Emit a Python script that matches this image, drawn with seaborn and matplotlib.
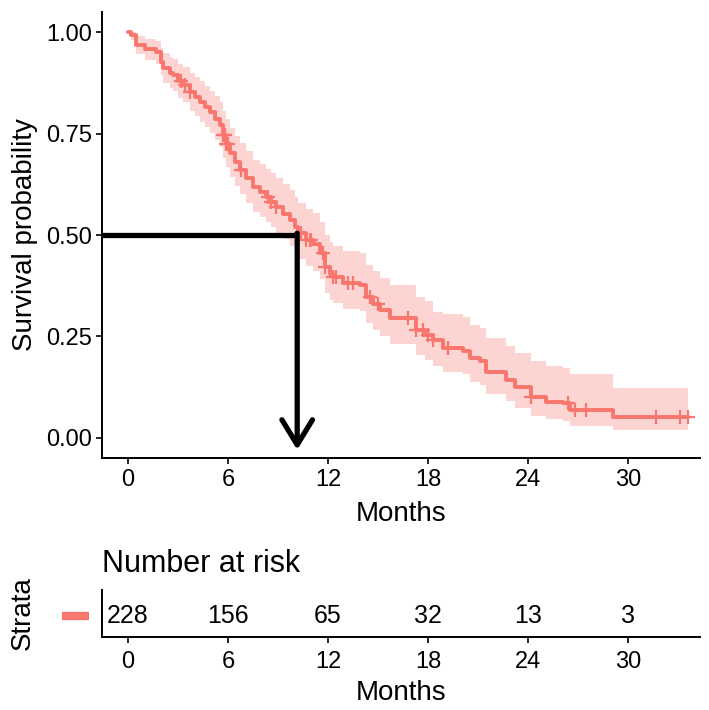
import numpy as np
import pandas as pd
import matplotlib
matplotlib.use('Agg')
import matplotlib.pyplot as plt
import seaborn as sns

# Kaplan-Meier steps (months, survival, 95% CI)
times = [0, 0.2, 0.45, 1.0, 1.7, 2.0, 2.1, 2.5, 2.7, 3.0, 3.3, 3.7, 4.0, 4.3, 4.6, 4.9,
         5.2, 5.5, 5.7, 5.9, 6.1, 6.4, 6.7, 7.1, 7.5, 7.9, 8.3, 8.6, 8.9, 9.3, 9.7, 10.0,
         10.2, 10.7, 11.1, 11.5, 11.8, 12.1, 12.3, 12.9, 13.9, 14.3, 14.7, 15.1, 15.7,
         17.3, 17.8, 18.3, 18.9, 20.1, 20.5, 21.1, 21.5, 22.7, 23.2, 24.2, 25.1, 26.1,
         26.5, 29.1, 33.6]
surv = [1.000, 0.993, 0.968, 0.958, 0.951, 0.927, 0.911, 0.900, 0.894, 0.880, 0.870,
        0.852, 0.840, 0.828, 0.815, 0.803, 0.786, 0.771, 0.746, 0.725, 0.702, 0.680,
        0.660, 0.640, 0.618, 0.606, 0.594, 0.582, 0.569, 0.553, 0.537, 0.520, 0.505,
        0.488, 0.478, 0.456, 0.422, 0.405, 0.397, 0.382, 0.377, 0.348, 0.330, 0.315,
        0.296, 0.266, 0.254, 0.241, 0.222, 0.215, 0.196, 0.188, 0.163, 0.143, 0.125,
        0.100, 0.089, 0.085, 0.069, 0.051, 0.051]
lower = [1.000, 0.982, 0.946, 0.932, 0.923, 0.894, 0.875, 0.862, 0.855, 0.839, 0.827,
         0.807, 0.793, 0.780, 0.766, 0.752, 0.734, 0.717, 0.691, 0.668, 0.644, 0.621,
         0.600, 0.579, 0.556, 0.544, 0.531, 0.519, 0.505, 0.489, 0.472, 0.455, 0.440,
         0.423, 0.412, 0.391, 0.357, 0.340, 0.332, 0.317, 0.312, 0.283, 0.266, 0.251,
         0.232, 0.204, 0.192, 0.178, 0.162, 0.156, 0.138, 0.131, 0.108, 0.090, 0.074,
         0.053, 0.045, 0.042, 0.030, 0.020, 0.020]
upper = [1.000, 1.000, 0.991, 0.984, 0.979, 0.961, 0.948, 0.939, 0.934, 0.922, 0.914,
         0.899, 0.889, 0.879, 0.867, 0.856, 0.842, 0.828, 0.805, 0.786, 0.765, 0.745,
         0.726, 0.707, 0.686, 0.675, 0.664, 0.653, 0.641, 0.625, 0.610, 0.594, 0.579,
         0.563, 0.554, 0.532, 0.499, 0.482, 0.474, 0.460, 0.455, 0.427, 0.410, 0.395,
         0.377, 0.348, 0.336, 0.310, 0.304, 0.297, 0.278, 0.270, 0.246, 0.227, 0.210,
         0.188, 0.176, 0.172, 0.156, 0.122, 0.122]
censor_times = [3.2, 3.4, 3.7, 5.7, 5.8, 5.9, 6.0, 6.8, 8.4, 8.6, 8.9, 10.4, 10.7, 10.9,
                11.0, 11.7, 11.8, 12.3, 12.5, 13.2, 13.5, 14.5, 15.0, 16.8, 17.3, 17.7,
                18.0, 18.3, 19.2, 24.2, 26.4, 26.8, 27.5, 31.7, 33.1, 33.6]
median_time = 10.15

risk_times = [0, 6, 12, 18, 24, 30]
risk_counts = [228, 156, 65, 32, 13, 3]

df = pd.DataFrame({'time': times, 'surv': surv, 'lower': lower, 'upper': upper})
idx = np.searchsorted(df['time'].values, censor_times, side='right') - 1
censor_df = pd.DataFrame({'time': censor_times, 'surv': df['surv'].values[idx]})

sns.set_theme(style='white')
plt.rcParams['font.family'] = ['Liberation Sans', 'DejaVu Sans']
plt.rcParams['text.color'] = 'black'
plt.rcParams['axes.labelcolor'] = 'black'
red = '#F8766D'

fig = plt.figure(figsize=(7.09, 7.10), dpi=100)
ax = fig.add_axes([0.1439, 0.355, 0.843, 0.628])
ax2 = fig.add_axes([0.1439, 0.103, 0.843, 0.066])

xlim = (-1.56, 34.3)

# main survival curve
ax.fill_between(df['time'], df['lower'], df['upper'], step='post', color=red, alpha=0.3, lw=0)
sns.lineplot(data=df, x='time', y='surv', ax=ax, color=red, lw=2.8,
             drawstyle='steps-post', estimator=None)
sns.scatterplot(data=censor_df, x='time', y='surv', ax=ax, marker='+', s=110,
                color=red, linewidth=1.6)

# median line + arrow
ax.plot([xlim[0], median_time], [0.5, 0.5], color='black', lw=3.8, solid_capstyle='butt', zorder=5)
ax.annotate('', xy=(median_time, -0.03), xytext=(median_time, 0.5045),
            arrowprops=dict(arrowstyle='->,head_length=0.9,head_width=0.55', lw=3.8,
                            color='black', shrinkA=0, shrinkB=0, mutation_scale=20), zorder=5)

ax.set_xlim(xlim)
ax.set_ylim(-0.05, 1.05)
ax.set_xticks(risk_times)
ax.set_yticks([0, 0.25, 0.5, 0.75, 1.0])
ax.set_yticklabels(['0.00', '0.25', '0.50', '0.75', '1.00'])
ax.set_xlabel('Months', fontsize=20, labelpad=7)
ax.set_ylabel('Survival probability', fontsize=20, labelpad=6)
ax.tick_params(axis='both', labelsize=17, length=4, width=1.2, color='black',
               labelcolor='black', direction='out', bottom=True, left=True, pad=3)
ax.tick_params(axis='x', pad=4)
sns.despine(ax=ax)
for s in ['left', 'bottom']:
    ax.spines[s].set_color('black')
    ax.spines[s].set_linewidth(1.4)

# risk table
for t, n in zip(risk_times, risk_counts):
    ax2.text(t, 0.0, str(n), ha='center', va='center_baseline', fontsize=18)
ax2.set_xlim(xlim)
ax2.set_ylim(-0.5, 0.5)
ax2.set_xticks(risk_times)
ax2.set_yticks([])
ax2.set_xlabel('Months', fontsize=20, labelpad=5)
ax2.set_ylabel('Strata', fontsize=20, labelpad=48)
ax2.set_title('Number at risk', loc='left', fontsize=22, pad=13)
ax2.tick_params(axis='x', labelsize=17, length=4, width=1.2, color='black',
                labelcolor='black', direction='out', bottom=True, pad=6)
ax2.plot([-0.067, -0.022], [0.45, 0.45], transform=ax2.transAxes, color=red, lw=6,
         solid_capstyle='butt', clip_on=False)
sns.despine(ax=ax2)
for s in ['left', 'bottom']:
    ax2.spines[s].set_color('black')
    ax2.spines[s].set_linewidth(1.4)

fig.savefig('out.png', dpi=100)
